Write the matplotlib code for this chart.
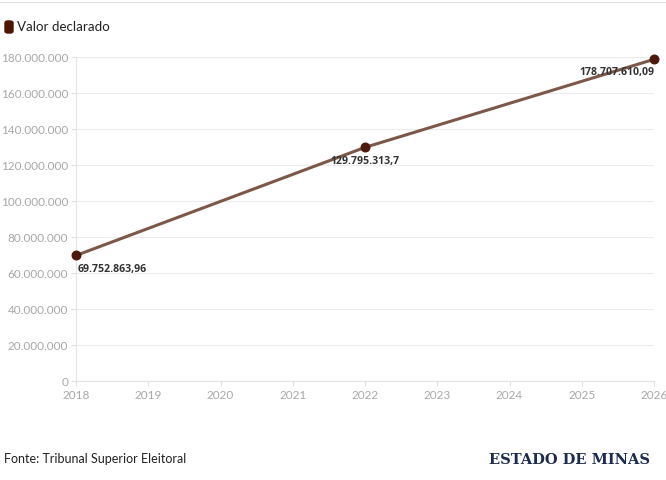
import matplotlib
matplotlib.use("Agg")
import matplotlib.pyplot as plt
from matplotlib.patches import FancyBboxPatch
from matplotlib.lines import Line2D

plt.rcParams["font.family"] = ["Lato", "DejaVu Sans"]

years = [2018, 2022, 2026]
values = [69752863.96, 129795313.7, 178707610.09]
labels = ["69.752.863,96", "129.795.313,7", "178.707.610,09"]
x_ticks = list(range(2018, 2027))
y_ticks = list(range(0, 180000001, 20000000))

LINE = "#7b5849"
DOT = "#4b1a0c"
GRID = "#ececec"
TICK = "#a8a8a8"


def fmt_br(v):
    return f"{int(v):,}".replace(",", ".")


fig = plt.figure(figsize=(6.66, 4.81), dpi=100)
ax = fig.add_axes([76 / 666, 1 - 382 / 481, 578 / 666, 324 / 481])

ax.plot(years, values, color=LINE, linewidth=2.2, zorder=3, solid_capstyle="round", clip_on=False)
ax.scatter(years, values, s=38, color=DOT, zorder=4, clip_on=False)

ax.set_xlim(2018, 2026)
ax.set_ylim(0, 180000000)
ax.set_xticks(x_ticks)
ax.set_xticklabels([str(y) for y in x_ticks])
ax.set_yticks(y_ticks)
ax.set_yticklabels([fmt_br(v) for v in y_ticks])
ax.grid(axis="y", color=GRID, linewidth=0.8)
for s in ["top", "right"]:
    ax.spines[s].set_visible(False)
for s in ["left", "bottom"]:
    ax.spines[s].set_color("#e4e4e4")
    ax.spines[s].set_linewidth(0.8)
ax.tick_params(axis="both", colors="#e0e0e0", labelcolor=TICK, labelsize=8.5,
               length=3.5, width=0.8)
ax.tick_params(axis="y", pad=2)
ax.tick_params(axis="x", pad=2.5)

# point labels
lab = dict(fontsize=7.6, fontweight="bold", color="#333333", zorder=5,
           family=["Open Sans", "DejaVu Sans"], textcoords="offset points", va="top")
ax.annotate(labels[0], (years[0], values[0]), xytext=(1, -5.5), ha="left", **lab)
ax.annotate(labels[1], (years[1], values[1]), xytext=(0, -5.5), ha="center", **lab)
ax.annotate(labels[2], (years[2], values[2]), xytext=(0, -5), ha="right", **lab)

# top rule
fig.add_artist(Line2D([0, 1], [1 - 3 / 481, 1 - 3 / 481], color="#dddddd", linewidth=0.8))

# legend
fig.add_artist(FancyBboxPatch((5 / 666, 1 - 34 / 481), 8 / 666, 12 / 481,
                              boxstyle="round,pad=0,rounding_size=0.004",
                              color="#4b1500", transform=fig.transFigure))
fig.text(17 / 666, 1 - 27 / 481, "Valor declarado", fontsize=9.6, color="#222222",
         va="center", ha="left")

# footer
fig.text(4 / 666, 1 - 459 / 481, "Fonte: Tribunal Superior Eleitoral", fontsize=9,
         color="#222222", va="center", ha="left")
fig.text(650 / 666, 1 - 460 / 481, "ESTADO DE MINAS", fontsize=10.5, fontweight="bold",
         family="DejaVu Serif", color="#1b2a4e", va="center", ha="right")

fig.savefig("out.png", dpi=100)
